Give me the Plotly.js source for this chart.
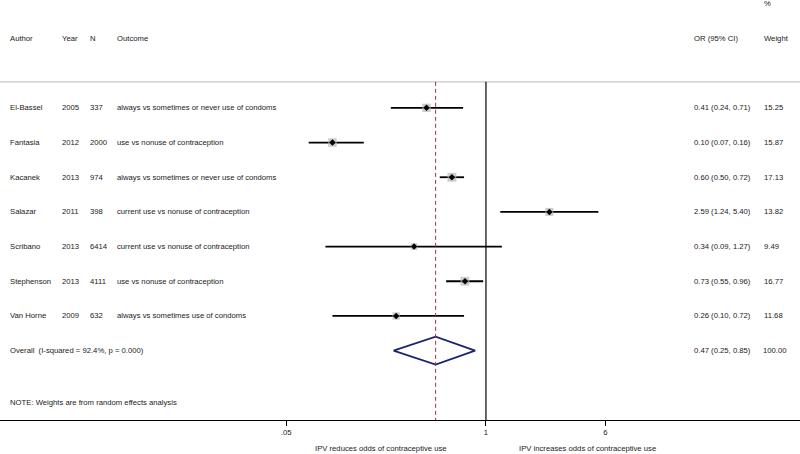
<!DOCTYPE html>
<html>
<head>
<meta charset="utf-8">
<script src="https://cdn.plot.ly/plotly-3.0.1.min.js"></script>
<style>html,body{margin:0;padding:0;background:#fff}#chart{width:800px;height:454px}</style>
</head>
<body>
<div id="chart"></div>
<script>
// ---- data ----
const authors = ["El-Bassel","Fantasia","Kacanek","Salazar","Scribano","Stephenson","Van Horne"];
const years = ["2005","2012","2013","2011","2013","2013","2009"];
const ns = ["337","2000","974","398","6414","4111","632"];
const outcomes = [
  "always vs sometimes or never use of condoms",
  "use vs nonuse of contraception",
  "always vs sometimes or never use of condoms",
  "current use vs nonuse of contraception",
  "current use vs nonuse of contraception",
  "use vs nonuse of contraception",
  "always vs sometimes use of condoms"
];
const orEst = [0.41,0.10,0.60,2.59,0.34,0.73,0.26];
const ciLow = [0.24,0.07,0.50,1.24,0.09,0.55,0.10];
const ciHigh = [0.71,0.16,0.72,5.40,1.27,0.96,0.72];
const weights = [15.25,15.87,17.13,13.82,9.49,16.77,11.68];
const overallEst = 0.47, overallLow = 0.25, overallHigh = 0.85, overallWeight = 100.00;
const overallLabel = "Overall  (I-squared = 92.4%, p = 0.000)";
const noteText = "NOTE: Weights are from random effects analysis";
const tickVals = [0.05, 1, 6];
const tickText = [".05", "1", "6"];
const leftLabel = "IPV reduces odds of contraceptive use";
const rightLabel = "IPV increases odds of contraceptive use";

// ---- build ----
const rows = authors.map((_, i) => i);
const overallRow = authors.length;
const FS = 7.7, FC = "#1a1a1a", FF = "Liberation Sans, Arial, sans-serif";
const fmt = v => v.toFixed(2);

const traces = [];
// CI lines
rows.forEach(i => {
  traces.push({x:[ciLow[i], ciHigh[i]], y:[i,i], mode:"lines", type:"scatter",
    line:{color:"#000", width:1.8}, hoverinfo:"skip", showlegend:false});
});
// weight squares
traces.push({x:orEst, y:rows, mode:"markers", type:"scatter", showlegend:false, hoverinfo:"skip",
  marker:{symbol:"square", color:"#b8b8b8", size:weights.map(w => 2.15*Math.sqrt(w)), line:{width:0}}});
// point estimates
traces.push({x:orEst, y:rows, mode:"markers", type:"scatter", showlegend:false, hoverinfo:"skip",
  marker:{symbol:"diamond", color:"#000", size:5, line:{width:0}}});
// overall diamond
traces.push({x:[overallLow, overallEst, overallHigh, overallEst, overallLow],
  y:[overallRow, overallRow-0.4, overallRow, overallRow+0.4, overallRow],
  mode:"lines", type:"scatter", showlegend:false, hoverinfo:"skip",
  line:{color:"#1b2470", width:1.8}});

const ann = [];
function txt(xpx, row, text) {
  ann.push({xref:"paper", yref:"y", x:xpx/800, y:row, text:text, showarrow:false,
    xanchor:"left", yanchor:"middle", font:{size:FS, color:FC, family:FF}});
}
const colX = {author:8, year:60, n:88, outcome:115, or:692, weight:762};
txt(colX.weight, -3, "%");
txt(colX.author, -2, "Author");
txt(colX.year, -2, "Year");
txt(colX.n, -2, "N");
txt(colX.outcome, -2, "Outcome");
txt(colX.or, -2, "OR (95% CI)");
txt(colX.weight, -2, "Weight");
rows.forEach(i => {
  txt(colX.author, i, authors[i]);
  txt(colX.year, i, years[i]);
  txt(colX.n, i, ns[i]);
  txt(colX.outcome, i, outcomes[i]);
  txt(colX.or, i, fmt(orEst[i]) + " (" + fmt(ciLow[i]) + ", " + fmt(ciHigh[i]) + ")");
  txt(colX.weight, i, fmt(weights[i]));
});
txt(colX.author, overallRow, overallLabel);
txt(colX.or, overallRow, fmt(overallEst) + " (" + fmt(overallLow) + ", " + fmt(overallHigh) + ")");
txt(colX.weight - 1, overallRow, fmt(overallWeight));
txt(colX.author, overallRow + 1.5, noteText);
ann.push({xref:"paper", yref:"paper", x:449/800, y:0, yshift:-28, xanchor:"right", yanchor:"middle",
  text:leftLabel, showarrow:false, font:{size:FS, color:FC, family:FF}});
ann.push({xref:"paper", yref:"paper", x:517/800, y:0, yshift:-28, xanchor:"left", yanchor:"middle",
  text:rightLabel, showarrow:false, font:{size:FS, color:FC, family:FF}});

const headerLineRow = -0.75;
const shapes = [
  {type:"line", xref:"paper", yref:"y", x0:0, x1:1, y0:headerLineRow, y1:headerLineRow,
   line:{color:"#c8c8c8", width:1.2}},
  {type:"line", xref:"x", yref:"y", x0:1, x1:1, y0:headerLineRow, y1:overallRow+2,
   line:{color:"#000", width:1.2}},
  {type:"line", xref:"x", yref:"y", x0:overallEst, x1:overallEst, y0:headerLineRow, y1:overallRow+2,
   line:{color:"#b0283c", width:1, dash:"4px,3px"}}
];

const layout = {
  width:800, height:454,
  margin:{l:0, r:0, t:0, b:34, pad:0},
  paper_bgcolor:"#fff", plot_bgcolor:"#fff",
  showlegend:false,
  xaxis:{type:"log", range:[-3.166, 2.046], tickvals:tickVals, ticktext:tickText,
    ticks:"outside", ticklen:5, tickcolor:"#000", tickwidth:1,
    showline:true, linecolor:"#000", linewidth:1.2, showgrid:false, zeroline:false,
    tickfont:{size:FS, color:FC, family:FF}, fixedrange:true},
  yaxis:{range:[overallRow+2, -3.11], showgrid:false, zeroline:false, showline:false,
    showticklabels:false, ticks:"", fixedrange:true},
  annotations:ann,
  shapes:shapes
};
Plotly.newPlot("chart", traces, layout, {staticPlot:true, displayModeBar:false});
</script>
</body>
</html>
